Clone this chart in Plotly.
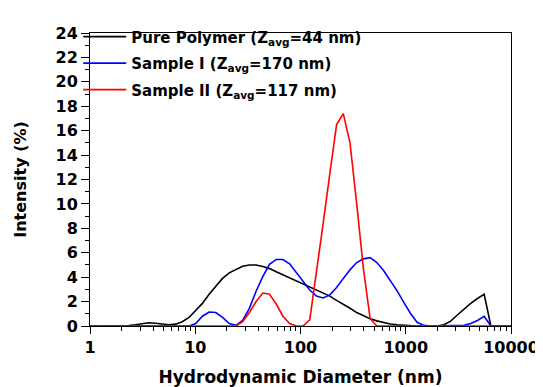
import plotly.graph_objects as go

# Hydrodynamic diameter size classes (nm)
diameter_nm = [0.9649, 1.117, 1.294, 1.499, 1.736, 2.010, 2.328, 2.696, 3.122, 3.615,
               4.187, 4.849, 5.615, 6.503, 7.531, 8.721, 10.10, 11.70, 13.54, 15.69,
               18.17, 21.04, 24.36, 28.21, 32.67, 37.84, 43.82, 50.75, 58.77, 68.06,
               78.82, 91.28, 105.7, 122.4, 141.8, 164.2, 190.1, 220.2, 255.0, 295.3,
               342.0, 396.1, 458.7, 531.2, 615.1, 712.4, 825.0, 955.4, 1106, 1281,
               1484, 1718, 1990, 2305, 2669, 3091, 3580, 4145, 4801, 5560,
               6439, 7456, 8635, 10000]

pure_polymer = [0, 0, 0, 0, 0, 0, 0.03, 0.1, 0.2, 0.27,
                0.22, 0.17, 0.1, 0.15, 0.35, 0.7, 1.25, 1.85, 2.6, 3.3,
                3.9, 4.35, 4.65, 4.9, 5.0, 5.0, 4.88, 4.7, 4.45, 4.2,
                3.95, 3.7, 3.45, 3.25, 3.0, 2.75, 2.45, 2.1, 1.8, 1.45,
                1.1, 0.85, 0.6, 0.42, 0.28, 0.17, 0.1, 0.05, 0.02, 0,
                0, 0, 0, 0.1, 0.4, 0.9, 1.4, 1.85, 2.25, 2.6,
                0, 0, 0, 0]

sample_1 = [0, 0, 0, 0, 0, 0, 0, 0, 0, 0,
            0, 0, 0, 0, 0, 0, 0.2, 0.8, 1.15, 1.1,
            0.7, 0.2, 0.05, 0.45, 1.45, 2.85, 4.05, 5.05, 5.45, 5.45,
            5.1, 4.4, 3.7, 2.95, 2.45, 2.3, 2.55, 3.15, 3.9, 4.6,
            5.2, 5.5, 5.6, 5.2, 4.55, 3.75, 2.9, 1.95, 1.05, 0.3,
            0.05, 0, 0, 0, 0, 0, 0.05, 0.2, 0.45, 0.8,
            0, 0, 0, 0]

sample_2 = [0, 0, 0, 0, 0, 0, 0, 0, 0, 0,
            0, 0, 0, 0, 0, 0, 0, 0, 0, 0,
            0, 0, 0, 0.35, 1.1, 2.0, 2.7, 2.6, 1.8, 0.8,
            0.2, 0, 0, 0.5, 4.3, 8.4, 12.5, 16.5, 17.4, 15.0,
            10.0, 4.7, 0.6, 0, 0, 0, 0, 0, 0, 0,
            0, 0, 0, 0, 0, 0, 0, 0, 0, 0,
            0, 0, 0, 0]

series_names = ["Pure Polymer (Z<sub>avg</sub>=44 nm)",
                "Sample I (Z<sub>avg</sub>=170 nm)",
                "Sample II (Z<sub>avg</sub>=117 nm)"]
series_colors = ["#000000", "#0000FF", "#FF0000"]

x_tick_vals = [1, 10, 100, 1000, 10000]
x_tick_text = ["1", "10", "100", "1000", "10000"]
y_tick_vals = list(range(0, 25, 2))

FONT = "DejaVu Sans"

fig = go.Figure()
for i, (name, ys, col) in enumerate(zip(series_names, [pure_polymer, sample_1, sample_2], series_colors)):
    fig.add_trace(go.Scatter(x=diameter_nm, y=ys, mode="lines", name=name,
                             legendgroup=f"g{i}",
                             line=dict(color=col, width=1.6)))

fig.update_layout(
    width=543, height=387,
    margin=dict(l=80, r=29, t=23, b=60),
    paper_bgcolor="white", plot_bgcolor="white",
    font=dict(family=FONT, color="black"),
    showlegend=True,
    legend=dict(x=-0.028, y=1.043, xanchor="left", yanchor="top",
                bgcolor="rgba(0,0,0,0)", tracegroupgap=4, itemwidth=43,
                font=dict(family=FONT, size=15, weight="bold", color="black")),
    xaxis=dict(type="log", range=[0, 4],
               tickvals=x_tick_vals, ticktext=x_tick_text,
               ticks="outside", ticklen=7, tickwidth=1, tickcolor="black",
               minor=dict(ticks="outside", ticklen=4, tickwidth=1, tickcolor="black",
                          tickvals=[m * d for d in [1, 10, 100, 1000] for m in range(2, 10)],
                          showgrid=False),
               showline=True, linecolor="black", linewidth=1, mirror=True,
               showgrid=False, zeroline=False,
               tickfont=dict(family=FONT, size=16, weight="bold", color="black"),
               title=dict(text="Hydrodynamic Diameter (nm)", standoff=14,
                          font=dict(family=FONT, size=17, weight="bold", color="black"))),
    yaxis=dict(range=[0, 24], tickvals=y_tick_vals,
               ticks="outside", ticklen=8, tickwidth=1, tickcolor="black",
               minor=dict(ticks="outside", ticklen=4, tickwidth=1, tickcolor="black",
                          dtick=1, showgrid=False),
               showline=True, linecolor="black", linewidth=1, mirror=True,
               showgrid=False, zeroline=False,
               tickfont=dict(family=FONT, size=16, weight="bold", color="black"),
               title=dict(text="Intensity (%)", standoff=24,
                          font=dict(family=FONT, size=16, weight="bold", color="black"))),
)

fig.write_html("out.html")
